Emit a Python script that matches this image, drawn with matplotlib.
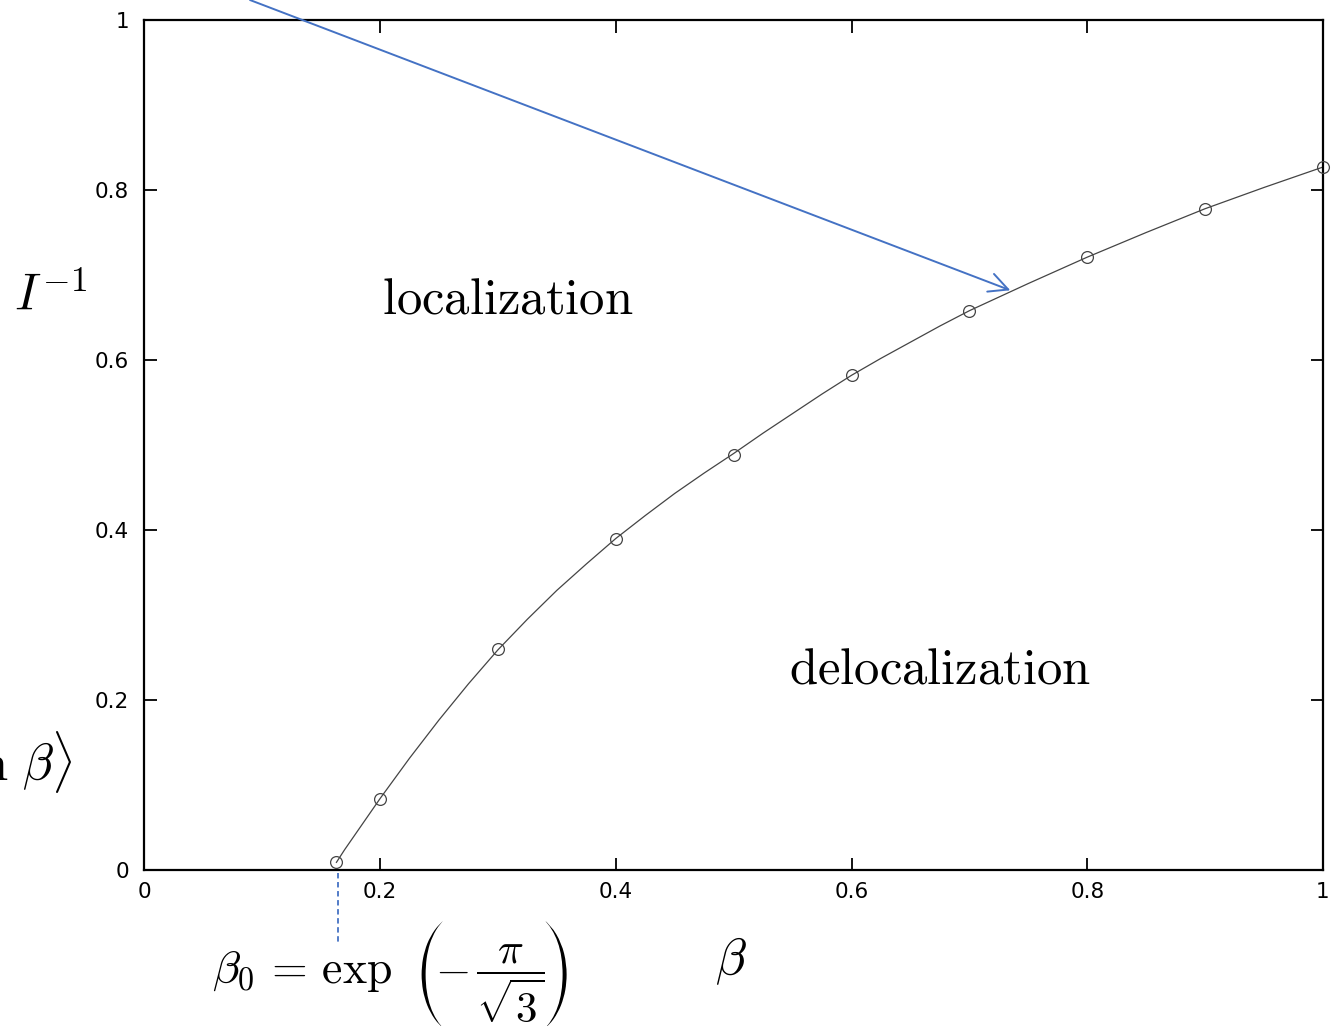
import matplotlib
matplotlib.use("Agg")
import matplotlib.pyplot as plt
import matplotlib.patheffects as pe

plt.rcParams['mathtext.fontset'] = 'cm'
plt.rcParams['font.family'] = ['DejaVu Sans']

# measured points
beta_pts = [0.163, 0.2, 0.3, 0.4, 0.5, 0.6, 0.7, 0.8, 0.9, 1.0]
inv_pts = [0.0094, 0.084, 0.260, 0.390, 0.488, 0.582, 0.658, 0.721, 0.778, 0.827]

# curve
curve_beta = [0.163, 0.17, 0.18, 0.19, 0.2, 0.225, 0.25, 0.275, 0.3, 0.325, 0.35,
              0.375, 0.4, 0.425, 0.45, 0.475, 0.5, 0.525, 0.55, 0.575, 0.6, 0.625,
              0.65, 0.675, 0.7, 0.75, 0.8, 0.85, 0.9, 0.95, 1.0]
curve_val = [0.009, 0.024, 0.044, 0.064, 0.084, 0.1315, 0.1765, 0.219, 0.259, 0.295,
             0.329, 0.360, 0.390, 0.417, 0.443, 0.467, 0.490, 0.514, 0.537, 0.560,
             0.582, 0.602, 0.621, 0.640, 0.658, 0.690, 0.721, 0.750, 0.778, 0.803,
             0.827]

xticks = [0, 0.2, 0.4, 0.6, 0.8, 1]
xtick_labels = ['0', '0.2', '0.4', '0.6', '0.8', '1']
yticks = [0, 0.2, 0.4, 0.6, 0.8, 1]
ytick_labels = ['0', '0.2', '0.4', '0.6', '0.8', '1']

beta0 = 0.1645

W, H = 1332, 1026
fig = plt.figure(figsize=(W / 100, H / 100), dpi=100)
ax = fig.add_axes([144.3 / W, 1 - 870 / H, (1323 - 144.3) / W, 850 / H])
ax.set_xlim(0, 1)
ax.set_ylim(0, 1)

ax.plot(curve_beta, curve_val, color='#444444', lw=0.9, zorder=2)
ax.plot(beta_pts, inv_pts, linestyle='none', marker='o', markersize=8.5,
        markerfacecolor='none', markeredgecolor='#444444', markeredgewidth=0.9,
        clip_on=False, zorder=3)

for s in ax.spines.values():
    s.set_linewidth(1.6)
    s.set_color('black')

ax.set_xticks(xticks)
ax.set_xticklabels(xtick_labels)
ax.set_yticks(yticks)
ax.set_yticklabels(ytick_labels)
ax.tick_params(direction='in', length=9, width=1.3, top=True, right=True,
               labelsize=15.5, colors='black')
ax.tick_params(axis='x', pad=9)
ax.tick_params(axis='y', pad=11)

# arrow
ax.annotate('', xy=(0.7347, 0.682), xytext=(0.0897, 1.0235),
            xycoords='data', textcoords='data', annotation_clip=False,
            arrowprops=dict(arrowstyle='->', color='#4472C4', lw=1.4,
                            mutation_scale=34, shrinkA=0, shrinkB=0))

# dashed drop line
ax.plot([beta0, beta0], [-0.003, -0.085], color='#4472C4', lw=1.3,
        linestyle=(0, (3, 2)), clip_on=False)

# region labels
ax.text(0.3087, 0.655, r'$\mathrm{localization}$', fontsize=36.5,
        ha='center', va='baseline')
ax.text(0.675, 0.22, r'$\mathrm{delocalization}$', fontsize=36.5,
        ha='center', va='baseline')

# outer labels (figure coords)
fig.text(14 / W, 1 - 311 / H, r'$I^{-1}$', fontsize=36.5, ha='left', va='baseline')
fig.text(73 / W, 1 - 781 / H, r'$\langle \ln\,\beta\rangle$', fontsize=36.5,
         ha='right', va='baseline')

# beta_0 formula, assembled from pieces
fig.text(212 / W, 1 - 983 / H, r'$\beta_0\,=\,\exp$', fontsize=33,
         ha='left', va='baseline')
thin = [pe.Normal(), pe.Stroke(linewidth=2.2, foreground='white')]
fig.text(409 / W, 1 - 1003 / H, r'$($', fontsize=82, ha='left', va='baseline',
         path_effects=thin)
fig.text(535 / W, 1 - 1003 / H, r'$)$', fontsize=82, ha='left', va='baseline',
         path_effects=thin)
fig.text(452 / W, 1 - 970 / H, r'$-$', fontsize=33, ha='center', va='center')
fig.text(510 / W, 1 - 984 / H, r'$\dfrac{\pi}{\sqrt{3}}$', fontsize=31,
         ha='center', va='center')

fig.text(731 / W, 1 - 975 / H, r'$\beta$', fontsize=36.5, ha='center',
         va='baseline')

fig.savefig('out.png', dpi=100)
